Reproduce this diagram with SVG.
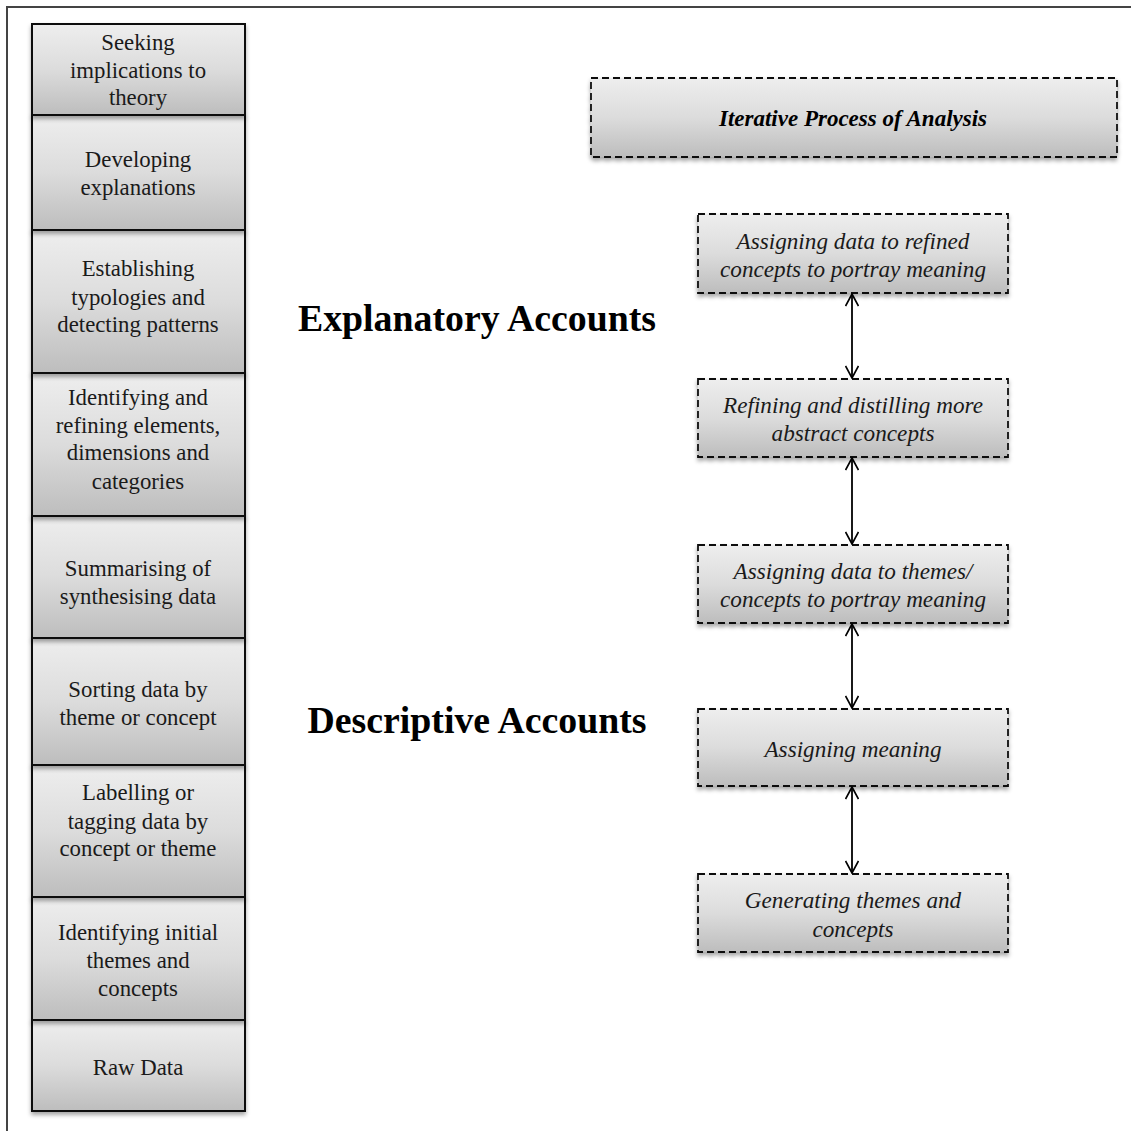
<svg xmlns="http://www.w3.org/2000/svg" width="1132" height="1131" viewBox="0 0 1132 1131">
<defs>
<linearGradient id="g" x1="0" y1="0" x2="0" y2="1">
<stop offset="0" stop-color="#eeeeee"/>
<stop offset="0.5" stop-color="#dcdcdc"/>
<stop offset="1" stop-color="#bdbdbd"/>
</linearGradient>
<filter id="sh" x="-10%" y="-10%" width="120%" height="130%">
<feDropShadow dx="0" dy="3" stdDeviation="2" flood-color="#000" flood-opacity="0.35"/>
</filter>
<marker id="ah" viewBox="0 0 14 14" refX="13" refY="7" markerWidth="14" markerHeight="14" markerUnits="userSpaceOnUse" orient="auto-start-reverse">
<path d="M1,0.5 L13,7 L1,13.5" fill="none" stroke="#000" stroke-width="1.7"/>
</marker>
</defs>
<style>
.lb{fill:url(#g);stroke:#111;stroke-width:2;filter:url(#sh)}
.rb{fill:url(#g);stroke:#111;stroke-width:1.8;stroke-dasharray:7,4;filter:url(#sh)}
.lt{font-family:"Liberation Serif",serif;font-size:22.8px;fill:#1a1a1a;text-anchor:middle}
.rt{font-family:"Liberation Serif",serif;font-size:23.2px;font-style:italic;fill:#1a1a1a;text-anchor:middle}
.tt{font-family:"Liberation Serif",serif;font-size:23px;font-style:italic;font-weight:bold;fill:#000;text-anchor:middle}
.hd{font-family:"Liberation Serif",serif;font-size:37.8px;font-weight:bold;fill:#000;text-anchor:middle}
.cn{stroke:#000;stroke-width:1.8;fill:none;marker-start:url(#ah);marker-end:url(#ah)}
</style>
<rect x="0" y="0" width="1132" height="1131" fill="#fff"/>
<path d="M7,1131 V7 H1131" fill="none" stroke="#444" stroke-width="2"/>

<g id="l9"><rect class="lb" x="32" y="1020" width="213" height="91"/><text class="lt" x="138" y="1075">Raw Data</text></g>
<g id="l8"><rect class="lb" x="32" y="897" width="213" height="123"/><text class="lt" x="138" y="940">Identifying initial</text><text class="lt" x="138" y="968">themes and</text><text class="lt" x="138" y="996">concepts</text></g>
<g id="l7"><rect class="lb" x="32" y="765" width="213" height="132"/><text class="lt" x="138" y="800">Labelling or</text><text class="lt" x="138" y="829">tagging data by</text><text class="lt" x="138" y="856">concept or theme</text></g>
<g id="l6"><rect class="lb" x="32" y="638" width="213" height="127"/><text class="lt" x="138" y="697">Sorting data by</text><text class="lt" x="138" y="725">theme or concept</text></g>
<g id="l5"><rect class="lb" x="32" y="516" width="213" height="122"/><text class="lt" x="138" y="576">Summarising of</text><text class="lt" x="138" y="604">synthesising data</text></g>
<g id="l4"><rect class="lb" x="32" y="373" width="213" height="143"/><text class="lt" x="138" y="405">Identifying and</text><text class="lt" x="138" y="433">refining elements,</text><text class="lt" x="138" y="460">dimensions and</text><text class="lt" x="138" y="489">categories</text></g>
<g id="l3"><rect class="lb" x="32" y="230" width="213" height="143"/><text class="lt" x="138" y="276">Establishing</text><text class="lt" x="138" y="305">typologies and</text><text class="lt" x="138" y="332">detecting patterns</text></g>
<g id="l2"><rect class="lb" x="32" y="115" width="213" height="115"/><text class="lt" x="138" y="167">Developing</text><text class="lt" x="138" y="195">explanations</text></g>
<g id="l1"><rect class="lb" x="32" y="24" width="213" height="91"/><text class="lt" x="138" y="50">Seeking</text><text class="lt" x="138" y="78">implications to</text><text class="lt" x="138" y="105">theory</text></g>

<g id="h1"><text class="hd" x="477" y="331">Explanatory Accounts</text></g>
<g id="h2"><text class="hd" x="477" y="733">Descriptive Accounts</text></g>

<g id="title"><rect class="rb" x="591" y="78" width="526" height="79"/><text class="tt" x="853" y="126">Iterative Process of Analysis</text></g>
<g id="r1"><rect class="rb" x="698" y="214" width="310" height="79"/><text class="rt" x="853" y="249">Assigning data to refined</text><text class="rt" x="853" y="277">concepts to portray meaning</text></g>
<g id="r2"><rect class="rb" x="698" y="379" width="310" height="78"/><text class="rt" x="853" y="413">Refining and distilling more</text><text class="rt" x="853" y="441">abstract concepts</text></g>
<g id="r3"><rect class="rb" x="698" y="545" width="310" height="78"/><text class="rt" x="853" y="579">Assigning data to themes/</text><text class="rt" x="853" y="607">concepts to portray meaning</text></g>
<g id="r4"><rect class="rb" x="698" y="709" width="310" height="77"/><text class="rt" x="853" y="757">Assigning meaning</text></g>
<g id="r5"><rect class="rb" x="698" y="874" width="310" height="78"/><text class="rt" x="853" y="908">Generating themes and</text><text class="rt" x="853" y="937">concepts</text></g>

<g id="connectors">
<line class="cn" x1="852" y1="294" x2="852" y2="378"/>
<line class="cn" x1="852" y1="458" x2="852" y2="544"/>
<line class="cn" x1="852" y1="624" x2="852" y2="708"/>
<line class="cn" x1="852" y1="787" x2="852" y2="873"/>
</g>
</svg>
